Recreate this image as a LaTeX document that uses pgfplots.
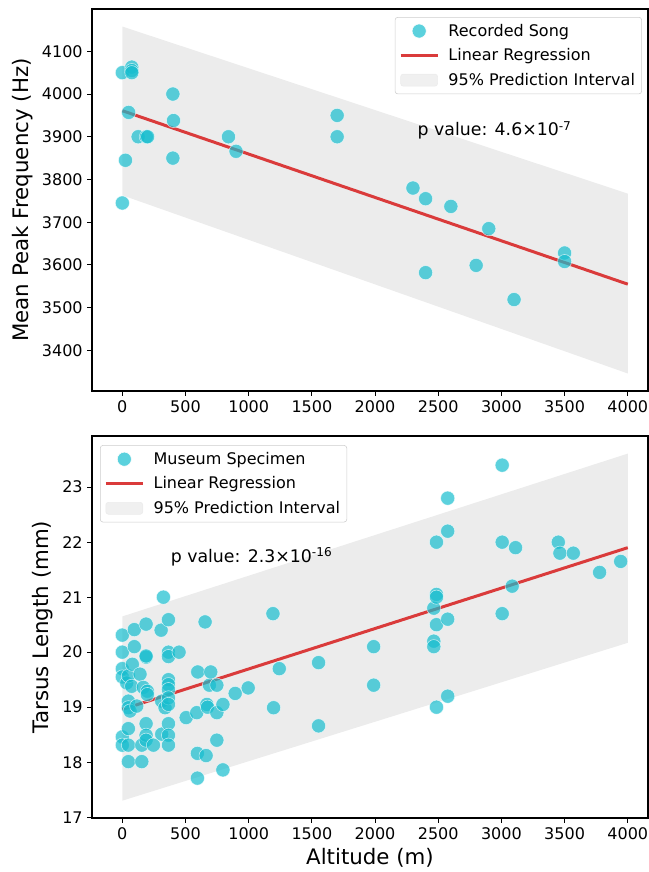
\documentclass[border=0pt]{standalone}
\usepackage{fontspec}
\setmainfont{DejaVu Sans}
\usepackage{pgfplots}
\pgfplotsset{compat=1.18}
\definecolor{ptcyan}{RGB}{23,190,207}
\definecolor{regred}{RGB}{218,59,59}
\definecolor{piband}{RGB}{236,236,236}
\definecolor{legedge}{RGB}{204,204,204}

\pgfplotsset{
  panel/.style={
    scale only axis, width=417pt, height=286.5pt,
    xmin=-240, xmax=4160,
    xtick={0,500,...,4000},
    axis line style={black, line width=0.8pt},
    tick style={black, line width=0.8pt},
    tick align=outside, xtick pos=bottom, ytick pos=left,
    major tick length=3.5pt,
    ticklabel style={font=\fontsize{12}{14}\selectfont},
    label style={font=\fontsize{16}{19}\selectfont},
    scaled ticks=false,
    /pgf/number format/1000 sep={},
    /pgf/number format/assume math mode=true,
    legend cell align=left,
    legend style={draw=legedge, rounded corners=2pt, fill=white,
      fill opacity=0.8, text opacity=1, row sep=3.8pt, column sep=5pt,
      inner xsep=3pt, inner ysep=3pt,
      font=\fontsize{12}{14}\selectfont},
  },
  pts/.style={only marks, mark=*, mark size=5.3pt,
    mark options={fill=ptcyan, draw=white, line width=0.4pt,
      fill opacity=0.7, draw opacity=0.7}},
  regline/.style={regred, line width=2.25pt},
  band/.style={fill=piband, draw=none},
}

\begin{document}
\begin{tikzpicture}
\path[use as bounding box] (-69pt,6.75pt) rectangle (417.75pt,-647.25pt);

% top: recorded song
\begin{axis}[panel, at={(0,0)}, anchor=north west,
  ymin=3305, ymax=4199,
  ytick={3400,3500,...,4100},
  ylabel={Mean Peak Frequency (Hz)},
  legend style={at={(0.989,0.979)}, anchor=north east},
]
  \addplot[band, forget plot] coordinates {(0,4158) (4000,3767) (4000,3346) (0,3763)} -- cycle;
  \addplot[pts, forget plot] coordinates {
    (0,4050) (0,3745) (25,3845) (50,3957) (75,4063) (75,4055) (75,4050)
    (125,3900) (190,3900) (200,3900) (400,4000) (405,3938) (400,3850)
    (840,3900) (900,3866) (1700,3950) (1700,3900) (2300,3780) (2400,3755)
    (2600,3737) (2900,3685) (3500,3628) (3500,3608) (2400,3582) (2800,3599)
    (3100,3519)};
  \addplot[regline, forget plot] coordinates {(0,3961) (4000,3555)};
  \addlegendimage{legend image code/.code={
    \draw[fill=ptcyan, draw=white, line width=0.4pt, fill opacity=0.7] (13.9pt,0pt) circle (5.3pt);}}
  \addlegendentry{Recorded Song}
  \addlegendimage{legend image code/.code={
    \draw[regred, line width=2.25pt] (0pt,0pt) -- (27.75pt,0pt);}}
  \addlegendentry{Linear Regression}
  \addlegendimage{legend image code/.code={
    \fill[piband] (0pt,-4.5pt) rectangle (27.75pt,4.5pt);}}
  \addlegendentry{95\% Prediction Interval}
  \node[anchor=west, font=\fontsize{13}{15}\selectfont] at (axis cs:2300,3915)
    {p value: 4.6×10\textsuperscript{-7}};
\end{axis}

% bottom: museum specimens
\begin{axis}[panel, at={(0,-320.25pt)}, anchor=north west,
  ymin=16.985, ymax=23.93,
  ytick={17,18,...,23},
  ylabel={Tarsus Length (mm)},
  xlabel={Altitude (m)},
  legend style={at={(0.0144,0.976)}, anchor=north west},
]
  \addplot[band, forget plot] coordinates {(0,20.65) (4000,23.61) (4000,20.17) (0,17.30)} -- cycle;
  \addplot[regline, forget plot] coordinates {(0,18.96) (4000,21.90)};
  \addplot[pts, forget plot] coordinates {
    (0,20.31) (0,20.0) (0,19.7) (0,19.55) (0,18.46) (0,18.31)
    (35,19.44) (48,19.57) (48,19.11) (48,18.99) (48,18.61) (48,18.31) (48,18.01)
    (61,18.93) (74,19.38) (79,19.78) (95,20.41) (95,20.10) (114,19.02) (140,19.6)
    (154,18.31) (154,18.01) (166,19.36) (188,20.51) (188,19.91) (188,19.93)
    (198,19.29) (198,19.23) (188,18.70) (188,18.49) (188,18.40)
    (246,18.31) (307,20.40) (312,19.11) (312,18.51) (325,21.0) (338,18.99)
    (365,20.59) (365,20.0) (365,19.92) (365,19.5) (365,19.41) (365,19.32)
    (365,19.17) (365,19.05) (365,18.70) (365,18.49) (365,18.31) (449,20.0)
    (505,18.81) (589,18.90) (594,18.16) (594,17.71) (597,19.64) (655,20.55)
    (663,18.12) (669,19.05) (674,19.0) (689,19.40) (700,19.64) (748,19.40)
    (748,18.90) (748,18.40) (796,19.05) (796,17.86) (893,19.25) (996,19.35)
    (1192,20.70) (1197,18.99) (1242,19.70) (1553,19.81) (1553,18.66)
    (1989,20.10) (1989,19.40)
    (2465,20.80) (2465,20.20) (2465,20.10) (2486,22.0) (2486,21.05) (2486,21.0)
    (2486,20.50) (2486,19.0) (2575,22.80) (2575,22.20) (2575,20.6) (2575,19.20)
    (3006,23.40) (3006,22.0) (3006,20.70) (3085,21.2) (3112,21.90) (3450,22.0)
    (3463,21.80) (3569,21.80) (3777,21.45) (3944,21.65)};
  \addlegendimage{legend image code/.code={
    \draw[fill=ptcyan, draw=white, line width=0.4pt, fill opacity=0.7] (13.9pt,0pt) circle (5.3pt);}}
  \addlegendentry{Museum Specimen}
  \addlegendimage{legend image code/.code={
    \draw[regred, line width=2.25pt] (0pt,0pt) -- (27.75pt,0pt);}}
  \addlegendentry{Linear Regression}
  \addlegendimage{legend image code/.code={
    \fill[piband] (0pt,-4.5pt) rectangle (27.75pt,4.5pt);}}
  \addlegendentry{95\% Prediction Interval}
  \node[anchor=west, font=\fontsize{13}{15}\selectfont] at (axis cs:346,21.74)
    {p value: 2.3×10\textsuperscript{-16}};
\end{axis}
\end{tikzpicture}
\end{document}
